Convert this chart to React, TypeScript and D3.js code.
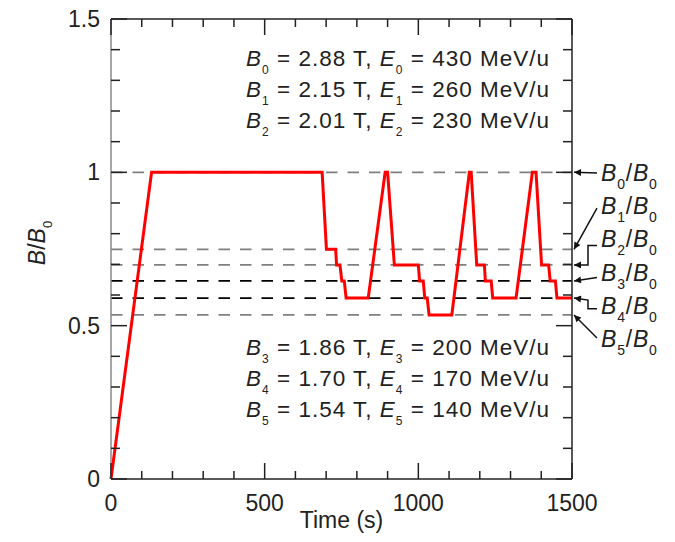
import React from 'react';
import * as d3 from 'd3';

// ---- data ----
const times = [0, 132, 687, 701, 731, 734, 745, 751, 759, 765, 837, 892, 900, 922, 1000, 1004, 1016, 1021, 1029, 1035, 1109, 1166, 1172, 1190, 1215, 1218, 1237, 1242, 1318, 1371, 1383, 1401, 1424, 1429, 1446, 1451, 1500];
const ratios = [0, 1, 1, 0.749, 0.749, 0.698, 0.698, 0.646, 0.646, 0.59, 0.59, 1, 1, 0.698, 0.698, 0.646, 0.646, 0.59, 0.59, 0.535, 0.535, 1, 1, 0.698, 0.698, 0.646, 0.646, 0.59, 0.59, 1, 1, 0.698, 0.698, 0.646, 0.646, 0.59, 0.59];

const levels = [1, 0.749, 0.698, 0.646, 0.59, 0.535];
const levelColors = ['#808080', '#808080', '#808080', '#000000', '#000000', '#808080'];
const bValues = ['2.88', '2.15', '2.01', '1.86', '1.70', '1.54'];
const eValues = ['430', '260', '230', '200', '170', '140'];
const arrowKinds = ['straight', 'straight', 'bracketDown', 'straight', 'bracketUp', 'straight'];
const arrowStartDy = [-8, -6, -2, -3, -5, -9];

const xTicks = d3.range(0, 1501, 100);
const xLabels = [0, 500, 1000, 1500];
const yTicks = d3.range(0, 16).map((i) => i / 10);
const yLabels = [0, 0.5, 1, 1.5];

const FONT = '"Liberation Sans", Arial, Helvetica, sans-serif';

const W = 675;
const H = 542;
const xScale = d3.scaleLinear().domain([0, 1500]).range([111, 572]);
const yScale = d3.scaleLinear().domain([0, 1.5]).range([479, 19]);

function EqLine({ k, y }: { k: number; y: number }) {
  return (
    <text x={550} y={y} textAnchor="end" fontSize={22.5} fontFamily={FONT} fill="#222" letterSpacing={1.0} style={{ whiteSpace: 'pre' }}>
      <tspan fontStyle="italic">B</tspan>
      <tspan fontSize={12} dy={8}>{String(k)}</tspan>
      <tspan dy={-8}>{` = ${bValues[k]} T, `}</tspan>
      <tspan fontStyle="italic">E</tspan>
      <tspan fontSize={12} dy={8}>{String(k)}</tspan>
      <tspan dy={-8}>{` = ${eValues[k]} MeV/u`}</tspan>
    </text>
  );
}

export default function App() {
  const x0 = xScale(0);
  const x1 = xScale(1500);
  const y0 = yScale(0);
  const y1 = yScale(1.5);

  const line = d3
    .line<number>()
    .x((_, i) => xScale(times[i]))
    .y((d) => yScale(d));

  const labelX = 601;
  const labelBase = (i: number) => 181 + i * 33.2;

  const arrowPath = (i: number) => {
    const ty = yScale(levels[i]);
    const sy = labelBase(i) + arrowStartDy[i];
    const ax = x1 + 2;
    let pts: [number, number][];
    if (arrowKinds[i] === 'bracketDown') {
      pts = [[597, sy], [588, sy], [588, ty], [ax, ty]];
    } else if (arrowKinds[i] === 'bracketUp') {
      pts = [[597, sy], [588, sy], [588, ty + 2], [ax, ty]];
    } else {
      pts = [[597, sy], [ax, ty]];
    }
    return d3.line()(pts) as string;
  };

  return (
    <svg width={W} height={H} style={{ position: 'absolute', left: 0, top: 0, background: '#fff' }}>
      <defs>
        <marker id="ah" viewBox="0 0 10 10" refX={10} refY={5} markerWidth={10} markerHeight={7} markerUnits="userSpaceOnUse" orient="auto">
          <path d="M0,0 L10,5 L0,10 z" fill="#111" />
        </marker>
      </defs>

      {/* dashed reference levels */}
      {levels.map((lv, i) => (
        <line key={'lv' + i} x1={x0} x2={x1} y1={yScale(lv)} y2={yScale(lv)} stroke={levelColors[i]} strokeWidth={1.8} strokeDasharray="11.5,10" />
      ))}

      {/* waveform */}
      <path d={line(ratios) as string} fill="none" stroke="#ff0000" strokeWidth={3} strokeLinejoin="miter" />

      {/* frame */}
      <line x1={x0} x2={x1} y1={y1} y2={y1} stroke="#222" strokeWidth={1.5} />
      <line x1={x0} x2={x1} y1={y0} y2={y0} stroke="#222" strokeWidth={1.5} />
      <line x1={x0} x2={x0} y1={y1} y2={y0} stroke="#888" strokeWidth={1.5} />
      <line x1={x1} x2={x1} y1={y1} y2={y0} stroke="#222" strokeWidth={1.5} />

      {/* x ticks */}
      {xTicks.map((t) => {
        const len = t % 500 === 0 ? 16 : 8;
        const x = xScale(t);
        return (
          <g key={'xt' + t}>
            <line x1={x} x2={x} y1={y0} y2={y0 - len} stroke="#222" strokeWidth={1.5} />
            <line x1={x} x2={x} y1={y1} y2={y1 + len} stroke="#222" strokeWidth={1.5} />
          </g>
        );
      })}
      {/* y ticks */}
      {yTicks.map((v) => {
        const major = Math.abs(v * 2 - Math.round(v * 2)) < 1e-6;
        const len = major ? 16 : 9;
        const y = yScale(v);
        return (
          <g key={'yt' + v}>
            <line x1={x0} x2={x0 + len} y1={y} y2={y} stroke="#222" strokeWidth={1.5} />
            <line x1={x1} x2={x1 - len} y1={y} y2={y} stroke="#222" strokeWidth={1.5} />
          </g>
        );
      })}

      {/* tick labels */}
      {xLabels.map((t) => (
        <text key={'xl' + t} x={xScale(t)} y={511} textAnchor="middle" fontSize={23} fontFamily={FONT} fill="#222">
          {String(t)}
        </text>
      ))}
      {yLabels.map((v) => (
        <text key={'yl' + v} x={100} y={yScale(v) + 8} textAnchor="end" fontSize={23} fontFamily={FONT} fill="#222">
          {String(v)}
        </text>
      ))}

      {/* axis titles */}
      <text x={341.5} y={528} textAnchor="middle" fontSize={23} fontFamily={FONT} fill="#222">Time (s)</text>
      <text transform="translate(45,243) rotate(-90)" textAnchor="middle" fontSize={23} fontFamily={FONT} fill="#222">
        <tspan fontStyle="italic">B</tspan>
        <tspan>/</tspan>
        <tspan fontStyle="italic">B</tspan>
        <tspan fontSize={13} dy={7}>0</tspan>
      </text>

      {/* equation blocks */}
      {[0, 1, 2].map((k, i) => (
        <EqLine key={'eqa' + k} k={k} y={66 + i * 31} />
      ))}
      {[3, 4, 5].map((k, i) => (
        <EqLine key={'eqb' + k} k={k} y={355 + i * 31} />
      ))}

      {/* right labels and arrows */}
      {levels.map((_, i) => (
        <g key={'rl' + i}>
          <path d={arrowPath(i)} fill="none" stroke="#111" strokeWidth={1.5} markerEnd="url(#ah)" />
          <text x={labelX} y={labelBase(i)} fontSize={23} fontFamily={FONT} fill="#222" letterSpacing={0.8}>
            <tspan fontStyle="italic">B</tspan>
            <tspan fontSize={14} dy={8}>{String(i)}</tspan>
            <tspan dy={-8}>/</tspan>
            <tspan fontStyle="italic">B</tspan>
            <tspan fontSize={14} dy={8}>0</tspan>
          </text>
        </g>
      ))}
    </svg>
  );
}
